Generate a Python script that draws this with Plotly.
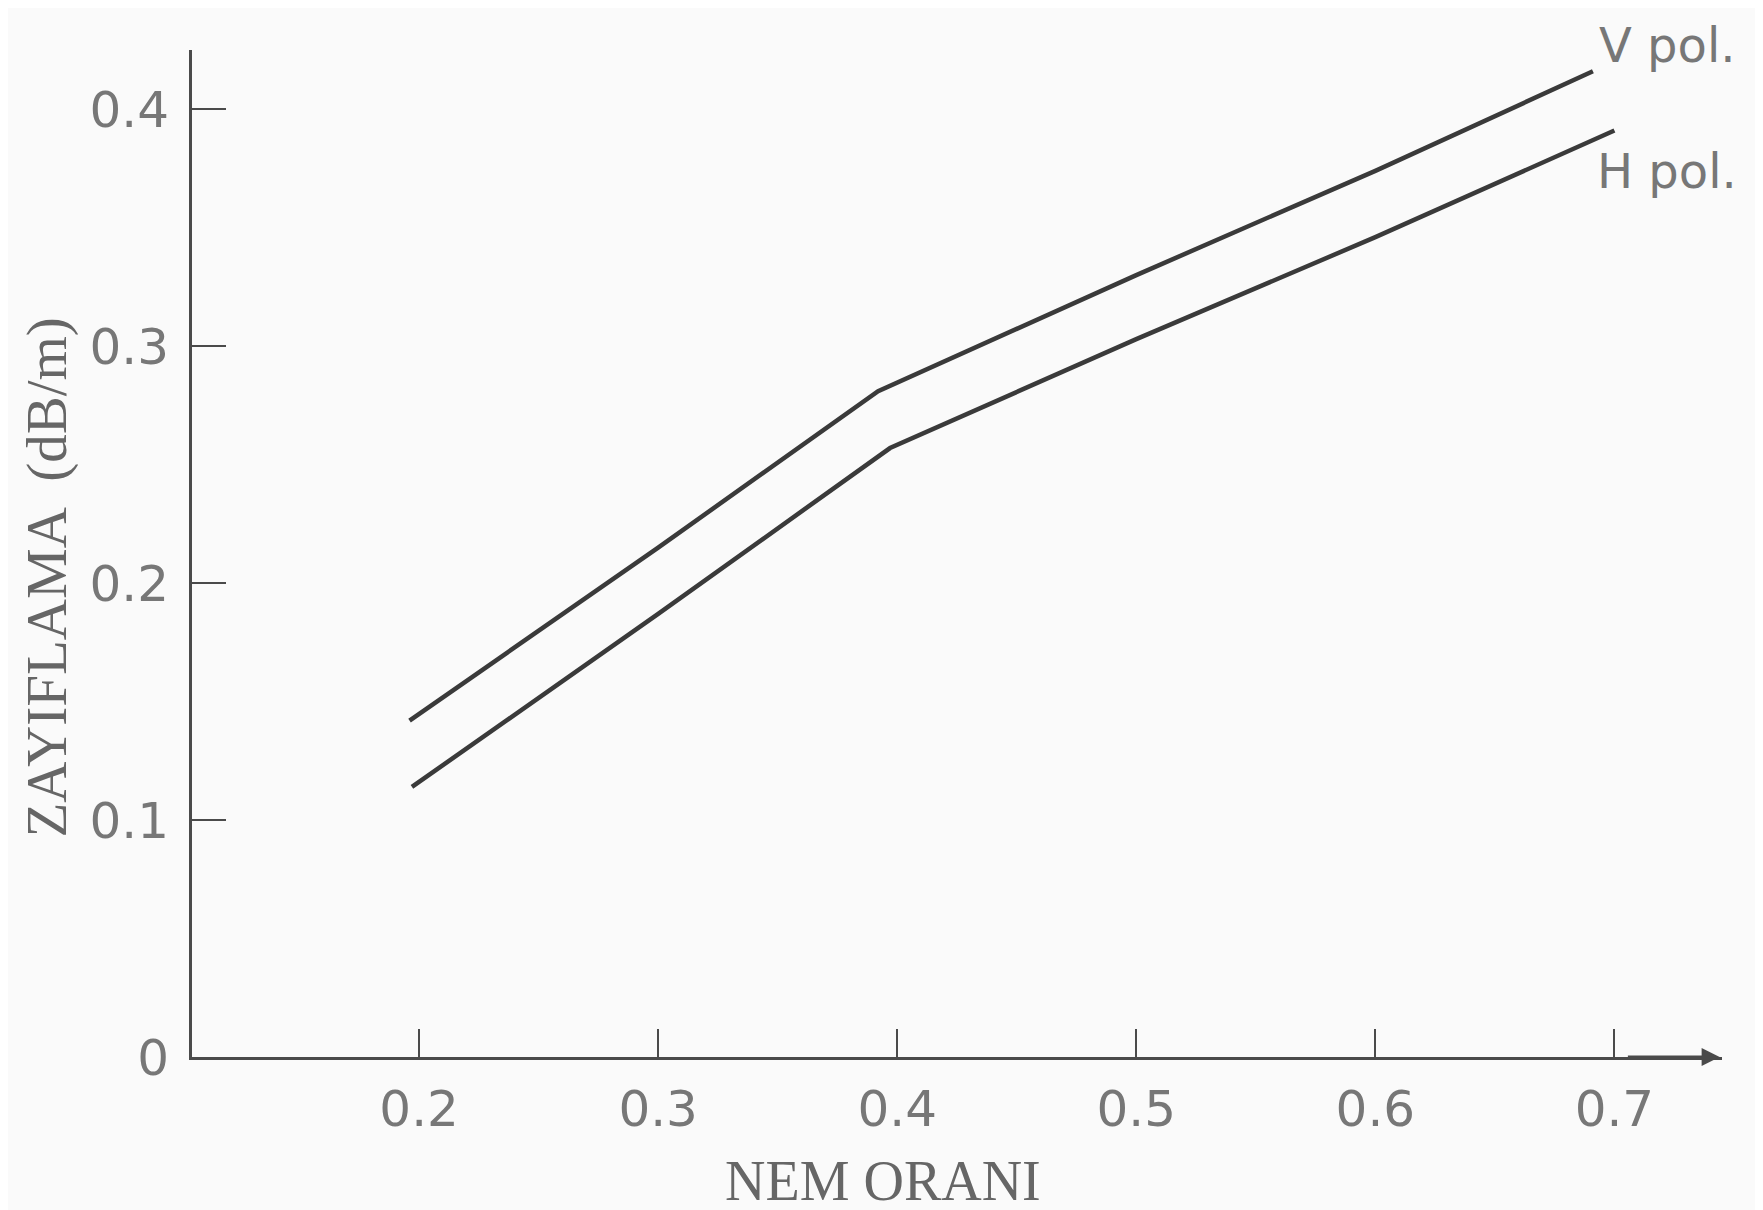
import plotly.graph_objects as go

# Data
moisture_v = [0.196, 0.30, 0.392, 0.50, 0.60, 0.691]
atten_v = [0.142, 0.215, 0.281, 0.330, 0.374, 0.416]
moisture_h = [0.197, 0.30, 0.397, 0.50, 0.60, 0.70]
atten_h = [0.114, 0.187, 0.257, 0.303, 0.346, 0.391]

x_ticks = [0.2, 0.3, 0.4, 0.5, 0.6, 0.7]
x_tick_text = ["0.2", "0.3", "0.4", "0.5", "0.6", "0.7"]
y_ticks = [0, 0.1, 0.2, 0.3, 0.4]
y_tick_text = ["0", "0.1", "0.2", "0.3", "0.4"]

series_names = ["V pol.", "H pol."]

LINE = "#3a3a3a"
AXIS = "#4a4a4a"
TXT = "#777777"
SERIF = "Liberation Serif, DejaVu Serif, serif"
SANS = "DejaVu Sans, sans-serif"

fig = go.Figure()
fig.add_trace(go.Scatter(x=moisture_v, y=atten_v, mode="lines", name=series_names[0],
                         line=dict(color=LINE, width=4.5)))
fig.add_trace(go.Scatter(x=moisture_h, y=atten_h, mode="lines", name=series_names[1],
                         line=dict(color=LINE, width=4.5)))

fig.update_layout(
    width=1763, height=1210,
    margin=dict(l=184, r=49, t=42, b=161),
    paper_bgcolor="#fafafa", plot_bgcolor="#fafafa",
    showlegend=False,
    xaxis=dict(range=[0.105, 0.745], tickvals=x_ticks, ticktext=x_tick_text,
               ticks="inside", ticklen=28, tickwidth=2, tickcolor=AXIS,
               showline=True, linecolor=AXIS, linewidth=3,
               showgrid=False, zeroline=False,
               tickfont=dict(family=SANS, size=50, color=TXT),
               ticklabelstandoff=6),
    yaxis=dict(range=[0, 0.425], tickvals=y_ticks, ticktext=y_tick_text,
               ticks="inside", ticklen=34, tickwidth=2, tickcolor=AXIS,
               showline=True, linecolor=AXIS, linewidth=3,
               showgrid=False, zeroline=False,
               tickfont=dict(family=SANS, size=50, color=TXT),
               ticklabelstandoff=10),
)

annotations = [
    dict(text="ZAYIFLAMA  (dB/m)", xref="paper", yref="paper", x=-0.0948, y=0.476,
         textangle=-90, showarrow=False, xanchor="center", yanchor="middle",
         font=dict(family=SERIF, size=57, color="#666666")),
    dict(text="NEM ORANI", xref="paper", yref="paper", x=0.4516, y=-0.123,
         showarrow=False, xanchor="center", yanchor="middle",
         font=dict(family=SERIF, size=56, color="#666666")),
    dict(text=series_names[0], xref="paper", yref="paper", x=0.918, y=1.005,
         showarrow=False, xanchor="left", yanchor="middle",
         font=dict(family=SANS, size=48, color=TXT)),
    dict(text=series_names[1], xref="paper", yref="paper", x=0.917, y=0.88,
         showarrow=False, xanchor="left", yanchor="middle",
         font=dict(family=SANS, size=48, color=TXT)),
    dict(text="", x=0.744, y=0, ax=0.705, ay=0, xref="x", yref="y",
         axref="x", ayref="y", showarrow=True, arrowhead=2, arrowsize=1.2,
         arrowwidth=3, arrowcolor=AXIS),
]
fig.update_layout(annotations=annotations)

fig.write_html("out.html")
